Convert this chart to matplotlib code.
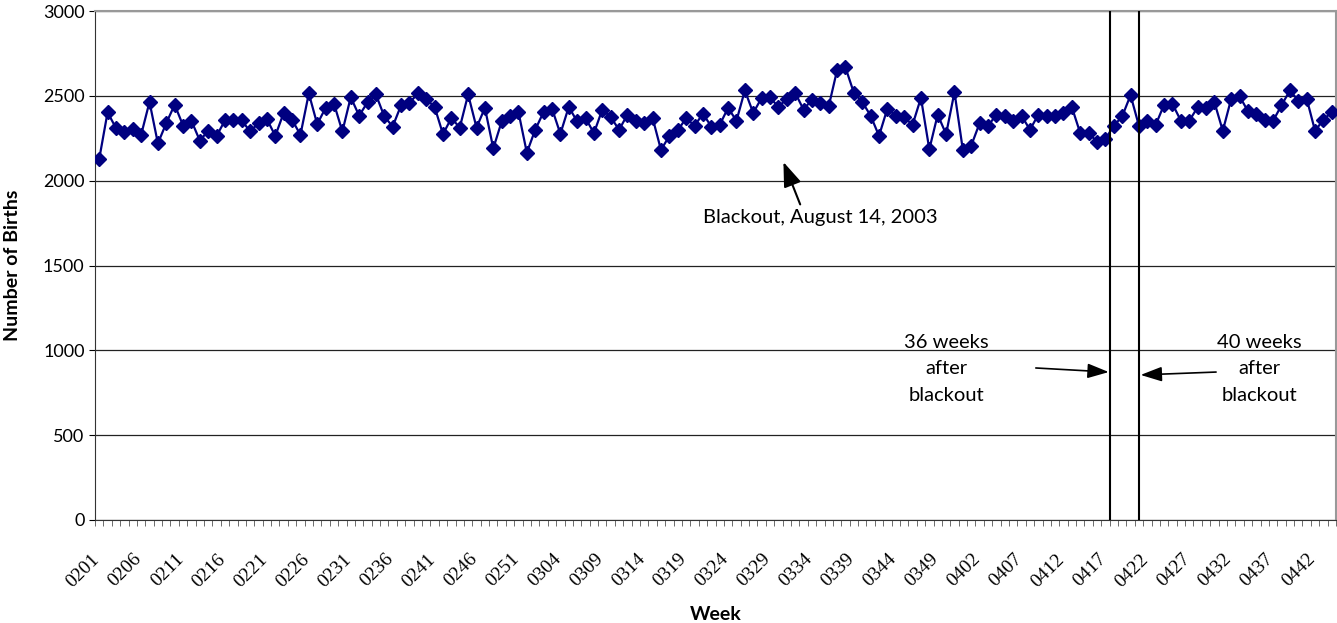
import matplotlib
matplotlib.use("Agg")
import matplotlib.pyplot as plt
import matplotlib.transforms as mtransforms
import numpy as np

# Weekly births, week codes YYWW starting 0201
year_prefix = ["02", "03", "04"]
weeks_in_year = [52, 52, 44]
weeks = [f"{p}{w:02d}" for p, n in zip(year_prefix, weeks_in_year) for w in range(1, n + 1)]

births = [
    2127, 2403, 2310, 2284, 2306, 2270, 2464, 2220, 2339, 2448,
    2325, 2353, 2236, 2294, 2264, 2355, 2359, 2355, 2290, 2339,
    2363, 2264, 2399, 2359, 2270, 2514, 2333, 2429, 2454, 2290,
    2492, 2383, 2462, 2508, 2379, 2319, 2444, 2458, 2514, 2480,
    2435, 2274, 2369, 2313, 2508, 2313, 2429, 2190, 2349, 2379,
    2405, 2165, 2300, 2405, 2425, 2276, 2435, 2349, 2369, 2280,
    2419, 2375, 2300, 2389, 2349, 2337, 2369, 2181, 2264, 2296,
    2369, 2323, 2395, 2319, 2329, 2429, 2353, 2532, 2399, 2488,
    2492, 2433, 2484, 2518, 2419, 2478, 2458, 2438, 2651, 2667,
    2518, 2464, 2383, 2264, 2425, 2383, 2373, 2329, 2488, 2185,
    2389, 2274, 2522, 2181, 2207, 2339, 2323, 2389, 2383, 2349,
    2383, 2300, 2389, 2379, 2379, 2399, 2433, 2280, 2280, 2230,
    2246, 2323, 2379, 2504, 2323, 2353, 2329, 2448, 2452, 2353,
    2353, 2433, 2429, 2462, 2294, 2482, 2498, 2409, 2393, 2355,
    2353, 2444, 2532, 2472, 2484, 2294, 2359, 2405,
]

blackout_week = "0333"
marked_offsets = [36, 40]

navy = "#000080"
sans = ["Lato", "DejaVu Sans"]

fig = plt.figure(figsize=(13.37, 6.23), dpi=100)
ax = fig.add_axes([95 / 1337, 103 / 623, 1241 / 1337, 509 / 623])

x = np.arange(len(births))
ax.plot(x, births, color=navy, lw=1.6, marker="D", ms=7, mfc=navy, mec=navy, zorder=3)

ax.set_xlim(-0.5, len(births) - 0.5)
ax.set_ylim(0, 3000)
ax.set_yticks(np.arange(0, 3001, 500))
ax.yaxis.grid(True, color="#222222", lw=0.9)
ax.set_axisbelow(True)

# category axis: ticks between categories, labels every 5
ax.set_xticks(np.arange(-0.5, len(births), 1), minor=True)
ax.set_xticks(x[::5])
ax.set_xticklabels([weeks[i] for i in x[::5]], rotation=45, ha="right", va="top",
                   rotation_mode="anchor", family=["Liberation Serif"], fontsize=14)
ax.tick_params(axis="x", which="major", length=0, pad=22)
ax.tick_params(axis="x", which="minor", length=4, color="#555555")
ax.tick_params(axis="y", length=4, labelsize=13)
for lab in ax.get_yticklabels():
    lab.set_family(sans)
offset = mtransforms.ScaledTranslation(-8 / 100, 0, fig.dpi_scale_trans)
for lab in ax.get_xticklabels():
    lab.set_transform(lab.get_transform() + offset)

for side in ["top", "right"]:
    ax.spines[side].set_color("#999999")
    ax.spines[side].set_linewidth(1.5)
ax.spines["left"].set_color("#333333")
ax.spines["bottom"].set_color("#333333")

ax.set_ylabel("Number of Births", family=sans, fontsize=14, fontweight="bold", labelpad=16)
ax.set_xlabel("Week", family=sans, fontsize=14, fontweight="bold", labelpad=11)

arrow_big = dict(arrowstyle="-|>,head_length=1.5,head_width=0.55",
                 color="black", lw=1.5, shrinkA=0, shrinkB=0)
arrow_small = dict(arrowstyle="-|>,head_length=1.3,head_width=0.45",
                   color="black", lw=1.2, shrinkA=0, shrinkB=0)

# blackout annotation
b = weeks.index(blackout_week)
ax.text(b + 2, 1780, "Blackout, August 14, 2003", ha="center", va="center",
        family=sans, fontsize=14.5)
ax.annotate("", xy=(b - 2.4, 2110), xytext=(b - 0.4, 1860), arrowprops=arrow_big)

# weeks after blackout
line_x = [b + marked_offsets[0] + 0.5, b + marked_offsets[1]]
for lx in line_x:
    ax.axvline(lx, color="black", lw=1.5, zorder=4)

ax.text(b + 17, 890, f"{marked_offsets[0]} weeks\nafter\nblackout", ha="center",
        va="center", family=sans, fontsize=14.5, linespacing=1.65)
ax.annotate("", xy=(line_x[0] - 0.1, 872), xytext=(b + 27.7, 896), arrowprops=arrow_small)

ax.text(b + 54.4, 890, f"{marked_offsets[1]} weeks\nafter\nblackout", ha="center",
        va="center", family=sans, fontsize=14.5, linespacing=1.65)
ax.annotate("", xy=(line_x[1] + 0.2, 855), xytext=(b + 49.2, 872), arrowprops=arrow_small)

fig.savefig("out.png", dpi=100)
